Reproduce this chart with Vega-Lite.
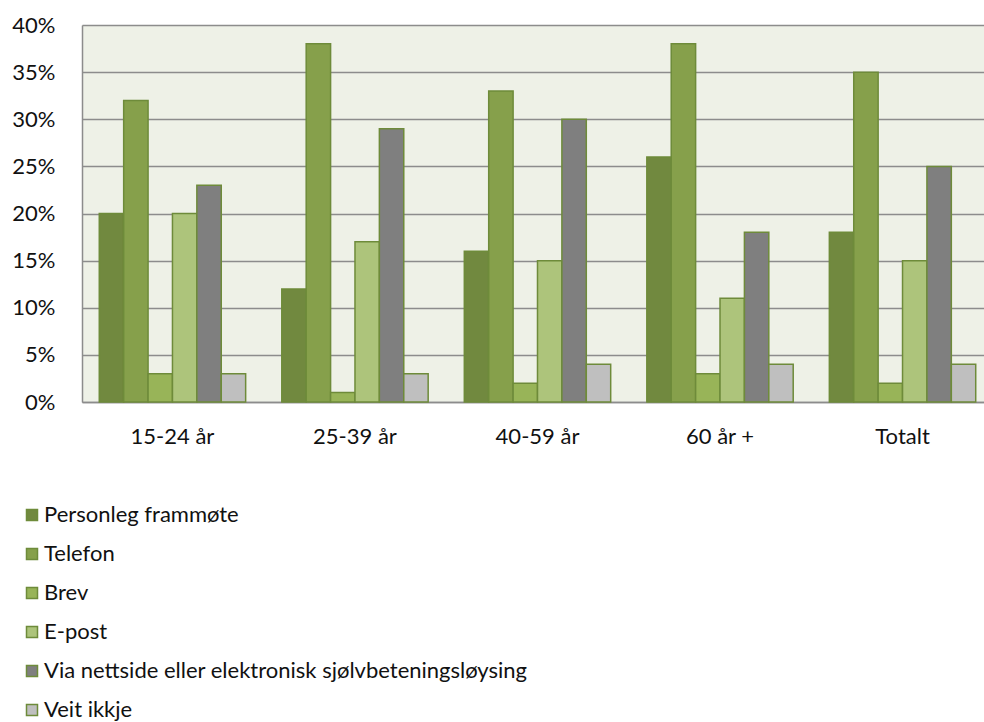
{
  "$schema": "https://vega.github.io/schema/vega-lite/v6.json",
  "width": 902,
  "height": 377,
  "autosize": {"type": "none"},
  "padding": {"left": 82, "top": 25, "right": 0, "bottom": 320},
  "background": "#ffffff",
  "config": {
    "font": "Lato",
    "view": {"fill": "#EEF1E7", "stroke": null},
    "axis": {"labelFont": "Lato", "labelColor": "#111111", "labelFontSize": 22}
  },
  "data": {
    "values": [
      {"gruppe": "15-24 år", "kanal": "Personleg frammøte", "andel": 0.20},
      {"gruppe": "15-24 år", "kanal": "Telefon", "andel": 0.32},
      {"gruppe": "15-24 år", "kanal": "Brev", "andel": 0.03},
      {"gruppe": "15-24 år", "kanal": "E-post", "andel": 0.20},
      {"gruppe": "15-24 år", "kanal": "Via nettside eller elektronisk sjølvbeteningsløysing", "andel": 0.23},
      {"gruppe": "15-24 år", "kanal": "Veit ikkje", "andel": 0.03},
      {"gruppe": "25-39 år", "kanal": "Personleg frammøte", "andel": 0.12},
      {"gruppe": "25-39 år", "kanal": "Telefon", "andel": 0.38},
      {"gruppe": "25-39 år", "kanal": "Brev", "andel": 0.01},
      {"gruppe": "25-39 år", "kanal": "E-post", "andel": 0.17},
      {"gruppe": "25-39 år", "kanal": "Via nettside eller elektronisk sjølvbeteningsløysing", "andel": 0.29},
      {"gruppe": "25-39 år", "kanal": "Veit ikkje", "andel": 0.03},
      {"gruppe": "40-59 år", "kanal": "Personleg frammøte", "andel": 0.16},
      {"gruppe": "40-59 år", "kanal": "Telefon", "andel": 0.33},
      {"gruppe": "40-59 år", "kanal": "Brev", "andel": 0.02},
      {"gruppe": "40-59 år", "kanal": "E-post", "andel": 0.15},
      {"gruppe": "40-59 år", "kanal": "Via nettside eller elektronisk sjølvbeteningsløysing", "andel": 0.30},
      {"gruppe": "40-59 år", "kanal": "Veit ikkje", "andel": 0.04},
      {"gruppe": "60 år +", "kanal": "Personleg frammøte", "andel": 0.26},
      {"gruppe": "60 år +", "kanal": "Telefon", "andel": 0.38},
      {"gruppe": "60 år +", "kanal": "Brev", "andel": 0.03},
      {"gruppe": "60 år +", "kanal": "E-post", "andel": 0.11},
      {"gruppe": "60 år +", "kanal": "Via nettside eller elektronisk sjølvbeteningsløysing", "andel": 0.18},
      {"gruppe": "60 år +", "kanal": "Veit ikkje", "andel": 0.04},
      {"gruppe": "Totalt", "kanal": "Personleg frammøte", "andel": 0.18},
      {"gruppe": "Totalt", "kanal": "Telefon", "andel": 0.35},
      {"gruppe": "Totalt", "kanal": "Brev", "andel": 0.02},
      {"gruppe": "Totalt", "kanal": "E-post", "andel": 0.15},
      {"gruppe": "Totalt", "kanal": "Via nettside eller elektronisk sjølvbeteningsløysing", "andel": 0.25},
      {"gruppe": "Totalt", "kanal": "Veit ikkje", "andel": 0.04}
    ]
  },
  "mark": {"type": "bar", "stroke": "#6E8B3A", "strokeWidth": 1.5},
  "encoding": {
    "x": {
      "field": "gruppe",
      "type": "nominal",
      "sort": ["15-24 år", "25-39 år", "40-59 år", "60 år +", "Totalt"],
      "scale": {"paddingInner": 0.198, "paddingOuter": 0.07, "align": 0.676},
      "axis": {
        "title": null,
        "labelAngle": 0,
        "ticks": false,
        "labelPadding": 24,
        "domainColor": "#8C8C8C",
        "domainWidth": 1.5
      }
    },
    "xOffset": {
      "field": "kanal",
      "type": "nominal",
      "sort": ["Personleg frammøte", "Telefon", "Brev", "E-post", "Via nettside eller elektronisk sjølvbeteningsløysing", "Veit ikkje"],
      "scale": {"paddingInner": 0, "paddingOuter": 0}
    },
    "y": {
      "field": "andel",
      "type": "quantitative",
      "scale": {"domain": [0, 0.4], "nice": false},
      "axis": {
        "title": null,
        "format": ".0%",
        "values": [0, 0.05, 0.1, 0.15, 0.2, 0.25, 0.3, 0.35, 0.4],
        "ticks": false,
        "labelPadding": 27,
        "gridColor": "#8C8C8C",
        "gridWidth": 1.5,
        "domainColor": "#8C8C8C",
        "domainWidth": 1.5
      }
    },
    "color": {
      "field": "kanal",
      "type": "nominal",
      "sort": ["Personleg frammøte", "Telefon", "Brev", "E-post", "Via nettside eller elektronisk sjølvbeteningsløysing", "Veit ikkje"],
      "scale": {
        "domain": ["Personleg frammøte", "Telefon", "Brev", "E-post", "Via nettside eller elektronisk sjølvbeteningsløysing", "Veit ikkje"],
        "range": ["#71893F", "#86A04B", "#98B458", "#ADC47B", "#7F7F7F", "#BFBFBF"]
      },
      "legend": {
        "title": null,
        "orient": "none",
        "legendX": -61,
        "legendY": 479,
        "direction": "vertical",
        "symbolType": "square",
        "symbolSize": 121,
        "symbolStrokeColor": "#6E8B3A",
        "symbolStrokeWidth": 1.5,
        "symbolOpacity": 1,
        "labelFont": "Lato",
        "labelFontSize": 22,
        "labelColor": "#111111",
        "labelOffset": 1,
        "labelLimit": 0,
        "rowPadding": 17,
        "padding": 0
      }
    }
  }
}
